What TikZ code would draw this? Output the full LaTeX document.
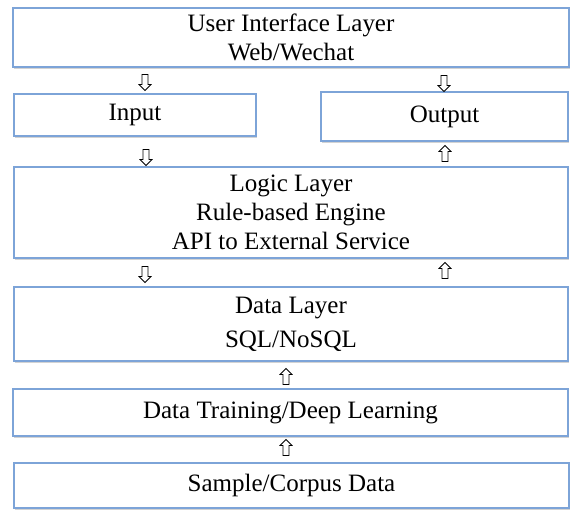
\documentclass[tikz,border=0pt]{standalone}
\usepackage{fontspec}
\setmainfont{Liberation Serif}
\usetikzlibrary{shapes.arrows,shadows}
\definecolor{boxblue}{HTML}{7DA4D8}
\tikzset{
  box/.style={draw=boxblue, line width=1.1pt, fill=white, align=center,
    inner sep=0pt, font=\fontsize{25}{29}\selectfont,
    drop shadow={shadow xshift=1.2pt, shadow yshift=-1.6pt, opacity=0.35, fill=gray}},
  flowarrow/.style={single arrow, draw=black, fill=white, line width=0.8pt,
    inner sep=2.6pt, minimum height=16pt, single arrow head extend=3pt,
    single arrow head indent=0pt},
  darrow/.style={flowarrow, shape border rotate=270},
  uarrow/.style={flowarrow, shape border rotate=90}
}
\begin{document}
\begin{tikzpicture}[x=1pt,y=-1pt]
\useasboundingbox (0,0) rectangle (574,510);
\node[box, minimum width=556pt, minimum height=59pt] (ui) at (291,37.5) {User Interface Layer\\Web/Wechat};
\node[box, minimum width=242pt, minimum height=42pt] (input) at (135,115) {Input};
\node[box, minimum width=247pt, minimum height=49pt] (output) at (444.5,116.5) {Output};
\node[box, minimum width=554pt, minimum height=91pt] (logic) at (291,212.5) {Logic Layer\\Rule-based Engine\\API to External Service};
\node[box, minimum width=554pt, minimum height=74pt] (data) at (291,324) {Data Layer\\[5pt]SQL/NoSQL};
\node[box, minimum width=555pt, minimum height=47pt] (train) at (290.5,412.5) {Data Training/Deep Learning};
\node[box, minimum width=555pt, minimum height=45pt] (sample) at (291.5,485.5) {Sample/Corpus Data};
\node[darrow] (a1) at (145,81) {};
\node[darrow] (a2) at (444,82) {};
\node[darrow] (a3) at (146,156) {};
\node[uarrow] (a4) at (445,155) {};
\node[darrow] (a5) at (145,273) {};
\node[uarrow] (a6) at (445,272) {};
\node[uarrow] (a7) at (286,378) {};
\node[uarrow] (a8) at (286,449) {};
\end{tikzpicture}
\end{document}
